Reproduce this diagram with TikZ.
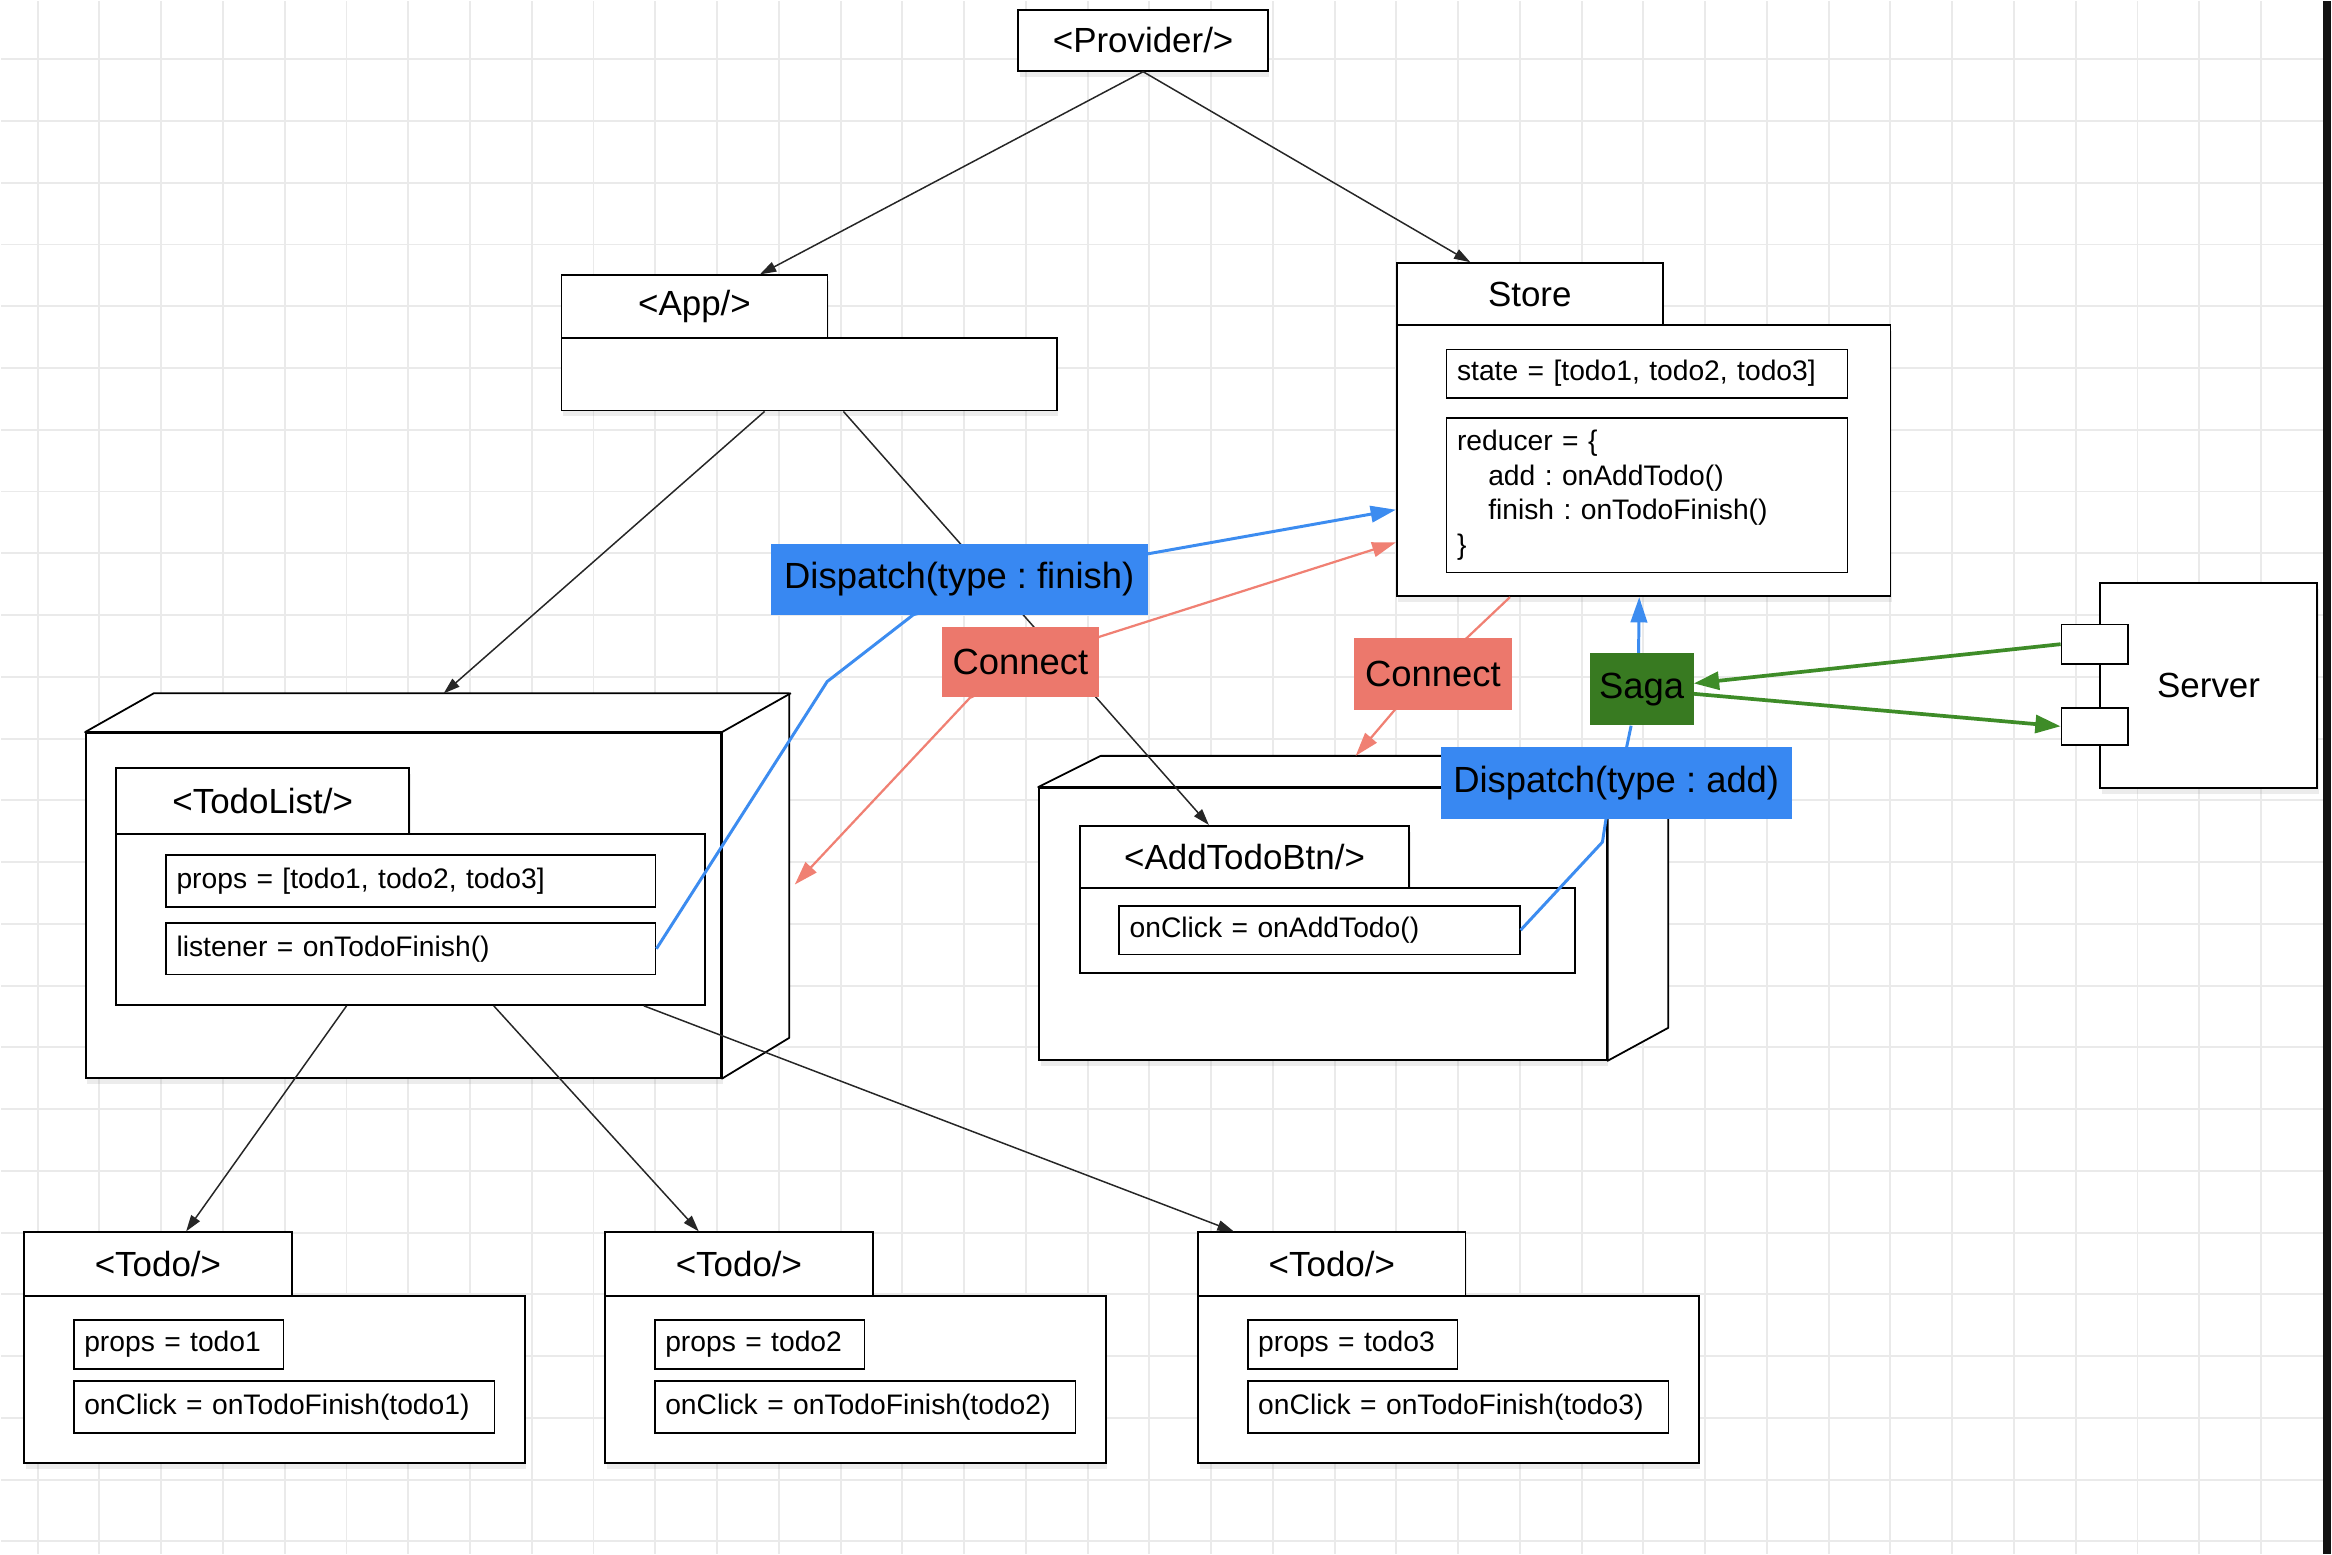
\documentclass[tikz,border=0pt]{standalone}
\usepackage{fontspec}
\setmainfont{Liberation Sans}
\usetikzlibrary{arrows.meta,shadows}
\pgfdeclarelayer{front}
\pgfsetlayers{main,front}
\frenchspacing

\definecolor{dispblue}{RGB}{56,136,242}
\definecolor{linkblue}{RGB}{60,140,240}
\definecolor{connred}{RGB}{236,120,108}
\definecolor{linkred}{RGB}{240,128,115}
\definecolor{sagagreen}{RGB}{56,122,33}
\definecolor{linkgreen}{RGB}{62,140,40}
\definecolor{gridgray}{RGB}{234,234,234}

\newcommand{\boxfont}{\fontsize{23.5}{28}\selectfont}
\newcommand{\fieldfont}{\fontsize{19}{23.3}\selectfont}
\newcommand{\tagfont}{\fontsize{24.5}{29}\selectfont}

\begin{document}
\begin{tikzpicture}[
    x=1pt, y=-1pt,
    gridline/.style={gridgray, line width=1.3pt},
    lifted/.style={
        drop shadow={shadow xshift=1pt, shadow yshift=-4pt, opacity=0.15}
    },
    box/.style={
        rectangle,
        draw=black,
        fill=white,
        line width=1.2pt,
        inner sep=0pt,
        anchor=north west
    },
    tabbox/.style={box, lifted, font=\boxfont},
    face/.style={draw=black, fill=white, line width=1.2pt, line join=round},
    field/.style={
        rectangle,
        draw=black,
        fill=white,
        line width=1.1pt,
        anchor=north west,
        inner xsep=7pt,
        inner ysep=0pt,
        align=left,
        font=\fieldfont
    },
    tag/.style={rectangle, inner sep=0pt, font=\tagfont, text=black},
    tree/.style={-{Triangle[length=11pt,width=7pt]}, line width=1pt, black!85},
    flow/.style={line width=2pt}
]

% Background and grid
\fill[white] (0,0) rectangle (1568,1045);
\foreach \gx in {0,...,36}
    \draw[gridline] (24.7+41.56*\gx,0) -- (24.7+41.56*\gx,1045);
\foreach \gy in {0,...,24}
    \draw[gridline] (0,39.2+41.56*\gy) -- (1568,39.2+41.56*\gy);
\fill[black!93] (1562.7,0) rectangle (1568,1045);
\useasboundingbox (0,0) rectangle (1568,1045);

% Provider
\node[tabbox, minimum width=168pt, minimum height=41pt] (provider) at (684,5.4) {<Provider/>};

% App
\node[tabbox, minimum width=179pt, minimum height=42pt] (apptab) at (376.6,184) {<App/>};
\node[box, lifted, minimum width=333.4pt, minimum height=49pt] (appbody) at (376.6,226) {};

% Store
\node[tabbox, minimum width=179pt, minimum height=41.7pt] (storetab) at (938.7,175.8) {Store};
\node[box, lifted, minimum width=332.3pt, minimum height=182.5pt] (storebody) at (938.7,217.5) {};
\node[field, text width=255.7pt, minimum height=32.5pt] (state) at (972.3,234) {state = [todo1, todo2, todo3]};
\node[field, text width=255.7pt, minimum height=104pt] (reducer) at (972.3,280)
    {reducer = \{\\\hspace*{21pt}add : onAddTodo()\\\hspace*{21pt}finish : onTodoFinish()\\\}};

% TodoList node
\node[box, lifted, minimum width=427.4pt, minimum height=232pt] (listnode) at (56.6,492) {};
\draw[face] (listnode.north west) -- ++(46.4,-26.2) -- ++(427.4,0) -- ++(0,232)
    -- (listnode.south east) -- (listnode.north east) -- cycle;
\draw[face] (listnode.north east) -- ++(46.4,-26.2);
\node[tabbox, minimum width=197pt, minimum height=44.5pt] (listtab) at (77,515.5) {<TodoList/>};
\node[box, minimum width=396pt, minimum height=115pt] (listbody) at (77,560) {};
\node[field, text width=315.4pt, minimum height=35pt] (listprops) at (110.6,574) {props = [todo1, todo2, todo3]};
\node[field, text width=315.4pt, minimum height=34.5pt] (listener) at (110.6,620) {listener = onTodoFinish()};

% AddTodoBtn node
\node[box, lifted, minimum width=382pt, minimum height=183pt] (btnnode) at (698,529) {};
\draw[face] (btnnode.north west) -- ++(42,-21) -- ++(382,0) -- ++(0,183)
    -- (btnnode.south east) -- (btnnode.north east) -- cycle;
\draw[face] (btnnode.north east) -- ++(42,-21);
\node[tabbox, minimum width=221.5pt, minimum height=42pt] (btntab) at (725.5,554.5) {<AddTodoBtn/>};
\node[box, minimum width=333pt, minimum height=57pt] (btnbody) at (725.5,596.5) {};
\node[field, text width=255.5pt, minimum height=32.5pt] (onadd) at (752,608.5) {onClick = onAddTodo()};

% Todos
\node[tabbox, minimum width=180pt, minimum height=43pt] (todotab1) at (15,828) {<Todo/>};
\node[box, lifted, minimum width=337pt, minimum height=112pt] (todobody1) at (15,871) {};
\node[field, text width=127pt, minimum height=33pt] (todoprops1) at (48.5,887) {props = todo1};
\node[field, text width=269pt, minimum height=35pt] (todoclick1) at (48.5,928) {onClick = onTodoFinish(todo1)};

\node[tabbox, minimum width=180pt, minimum height=43pt] (todotab2) at (406,828) {<Todo/>};
\node[box, lifted, minimum width=337pt, minimum height=112pt] (todobody2) at (406,871) {};
\node[field, text width=127pt, minimum height=33pt] (todoprops2) at (439.5,887) {props = todo2};
\node[field, text width=269pt, minimum height=35pt] (todoclick2) at (439.5,928) {onClick = onTodoFinish(todo2)};

\node[tabbox, minimum width=180pt, minimum height=43pt] (todotab3) at (805,828) {<Todo/>};
\node[box, lifted, minimum width=337pt, minimum height=112pt] (todobody3) at (805,871) {};
\node[field, text width=127pt, minimum height=33pt] (todoprops3) at (838.5,887) {props = todo3};
\node[field, text width=269pt, minimum height=35pt] (todoclick3) at (838.5,928) {onClick = onTodoFinish(todo3)};

% Server
\node[box, lifted, minimum width=146pt, minimum height=138pt, font=\boxfont] (server) at (1412,391) {Server};
\node[box, minimum width=44.5pt, minimum height=26.5pt] (portin) at (1386,419) {};
\node[box, minimum width=44.5pt, minimum height=25pt] (portout) at (1386,475) {};

% Labels
\begin{pgfonlayer}{front}
\node[tag, fill=dispblue, minimum width=253.7pt, minimum height=48pt] (dispfinish) at (644.85,389.35) {Dispatch(type : finish)};
\node[tag, fill=connred, minimum width=106pt, minimum height=47.7pt] (connectl) at (686,444.85) {Connect};
\node[tag, fill=connred, minimum width=106.2pt, minimum height=48pt] (connectr) at (963.6,453) {Connect};
\node[tag, fill=sagagreen, minimum width=70pt, minimum height=48.5pt] (saga) at (1104,463.25) {Saga};
\node[tag, fill=dispblue, minimum width=236pt, minimum height=48.6pt] (dispadd) at (1087,526.3) {Dispatch(type : add)};
\end{pgfonlayer}

% Tree
\draw[tree] (provider.south) -- ([xshift=44pt]apptab.north);
\draw[tree] (provider.south) -- ([xshift=-40pt]storetab.north);
\draw[tree] ([xshift=-30pt]appbody.south) -- ([xshift=27pt,yshift=26pt]listnode.north);
\draw[tree] ([xshift=23pt]appbody.south) -- ([xshift=-24pt]btntab.north);
\draw[tree] ([xshift=-43pt]listbody.south) -- ([xshift=19pt]todotab1.north);
\draw[tree] ([xshift=56pt]listbody.south) -- ([xshift=-27pt]todotab2.north);
\draw[tree] ([xshift=157pt]listbody.south) -- ([xshift=-66pt]todotab3.north);

% Dispatch and connect
\draw[flow, linkblue, line join=round, -{Triangle[length=17pt,width=11pt]}]
    (listener.east) -- (556,458) -- (614,413) -- (772,372) -- ([yshift=-33pt]storebody.west);
\draw[flow, linkred, line width=1.5pt, {Triangle[length=16pt,width=10pt]}-{Triangle[length=16pt,width=10pt]}]
    ([xshift=49pt,yshift=14pt]listnode.east) -- (652,469) -- (739.7,427.7) -- ([yshift=-55pt]storebody.west);
\draw[flow, linkred, line width=1.5pt, -{Triangle[length=16pt,width=10pt]}]
    ([xshift=-90pt]storebody.south) -- (986.5,428.6) -- (938,477) -- ([xshift=22pt,yshift=21pt]btnnode.north);
\draw[flow, linkblue, line join=round]
    (onadd.east) -- (1077.7,566) -- (1080,551) -- (1094,502) -- ([xshift=-7pt]saga.south);
\draw[flow, linkblue, -{Triangle[length=17pt,width=11pt]}] ([xshift=-2pt]saga.north) -- ([xshift=-3pt]storebody.south);

% Saga and server
\draw[flow, linkgreen, line width=2.5pt, -{Triangle[length=17pt,width=12pt]}] (portin.west) -- ([yshift=4pt]saga.east);
\draw[flow, linkgreen, line width=2.5pt, -{Triangle[length=17pt,width=12pt]}] ([yshift=-3pt]saga.east) -- (portout.west);

\end{tikzpicture}
\end{document}
